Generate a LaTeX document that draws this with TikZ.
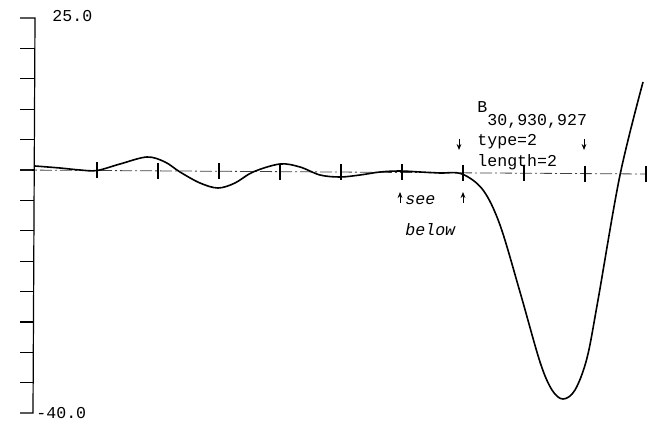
\documentclass[tikz,border=0pt]{standalone}
\usepackage{fontspec}
\setmonofont{Liberation Mono}
\usetikzlibrary{arrows.meta}
\tikzset{
    lbl/.style={font=\ttfamily\fontsize{8.3}{9}\selectfont, inner sep=0pt},
    notearrow/.style={-{Stealth[length=3pt,width=2.4pt]}, line width=0.5pt},
    zeroline/.style={black!75, line width=0.4pt, dash pattern=on 6pt off 1.5pt on 1pt off 1.5pt}
}

\begin{document}
\begin{tikzpicture}[x=0.5pt,y=-0.5pt]
    \useasboundingbox (0,0) rectangle (652,427);

    % Vertical scale
    \draw[line width=0.6pt] (20,18) -- (35,18) -- (33,413) -- (20,413);
    \foreach \k in {1,...,12}
        \draw[line width=0.6pt] (20,{18+\k*30.4}) -- ({35-\k*0.15},{18+\k*30.4});
    \node[lbl, anchor=base west] (ymax) at (52,22) {25.0};
    \node[lbl, anchor=base west] (ymin) at (36,418) {-40.0};

    % Zero line with crosses (scan is slightly tilted)
    \draw[zeroline] (20,170) -- (646,174);
    \foreach \x in {97,158,...,646}
        \draw[line width=0.6pt] (\x,{162+(\x-35)*0.0065}) -- (\x,{178+(\x-35)*0.0065});

    % Curve
    \draw[line width=0.8pt] plot[smooth, tension=0.55] coordinates {
        (35,166) (60,168) (80,170) (97,170.5) (120,164) (147,157) (165,162)
        (180,172) (200,183) (218,188) (235,183) (253,172) (280,164) (300,167)
        (320,175) (340,177) (360,175) (380,172) (400,171) (420,172) (440,173)
        (462,174) (483,190) (500,225) (520,292) (540,362) (552,390) (563,399)
        (575,390) (587,358) (598,300) (620,175) (643,82)};

    % Labels
    \node[lbl, anchor=base west] (bname) at (477,113) {B\raisebox{-6.5pt}{30,930,927}};
    \node[lbl, anchor=base west] (btype) at (477,146) {type=2};
    \node[lbl, anchor=base west] (blen) at (477,167) {length=2};
    \node[lbl, anchor=base west] (see) at (405,205) {\itshape see};
    \node[lbl, anchor=base west] (below) at (405,235) {\itshape below};

    % Pointers
    \draw[notearrow] (459,139) -- (459,150);
    \draw[notearrow] (584,139) -- (584,150);
    \draw[notearrow] (400,203) -- (400,192);
    \draw[notearrow] (463,203) -- (463,192);
\end{tikzpicture}
\end{document}
